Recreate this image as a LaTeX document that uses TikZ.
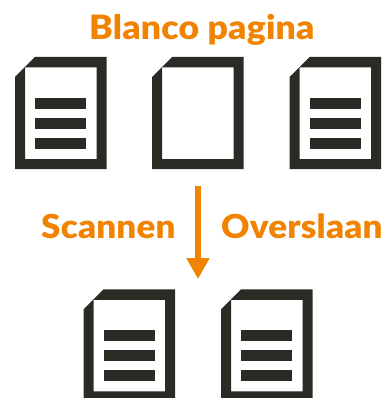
\documentclass[tikz,border=0pt]{standalone}
\usepackage{fontspec}
\setmainfont[FakeStretch=1.06,LetterSpace=0.6]{Lato Black}
\usetikzlibrary{arrows.meta}
\definecolor{ink}{HTML}{2B2B25}
\definecolor{oran}{HTML}{F08300}
\tikzset{
  x=1pt,y=-1pt,
  lbl/.style={text=oran,inner sep=0pt,anchor=base west,font=\fontsize{33.5}{36}\selectfont},
  lbllow/.style={lbl,font=\fontsize{33}{36}\selectfont},
}
\newcommand{\docicon}[3]{% x, y, bars
  \begin{scope}[shift={(#1,#2)}]
    \fill[ink,even odd rule] (0,20)--(20,0)--(91.5,0)--(91.5,112)--(0,112)--cycle
      (10,10.5)--(81.5,10.5)--(81.5,102)--(10,102)--cycle;
    \ifnum#3=1
      \fill[ink] (20,41) rectangle (71,52);
      \fill[ink] (20,61) rectangle (71,72);
      \fill[ink] (20,81) rectangle (71,92);
    \fi
  \end{scope}}
\begin{document}
\begin{tikzpicture}
\useasboundingbox (0,0) rectangle (384,398);
\docicon{15}{57}{1}
\docicon{152}{57}{0}
\docicon{289.5}{57}{1}
\begin{scope}
\clip (0,0) rectangle (384,398);
\docicon{83.5}{289.3}{1}
\docicon{221}{289.3}{1}
\end{scope}
\node[lbl] (title) at (89,39.5) {Blanco pagina};
\node[lbllow] (scan) at (41,238) {Scannen};
\node[lbllow] (skip) at (221,238) {Overslaan};
\coordinate (from) at (198,186);
\coordinate (to) at (198,279);
\draw[oran,line width=6pt,-{Triangle[length=21pt,width=22pt]}] (from) -- (to);
\end{tikzpicture}
\end{document}
